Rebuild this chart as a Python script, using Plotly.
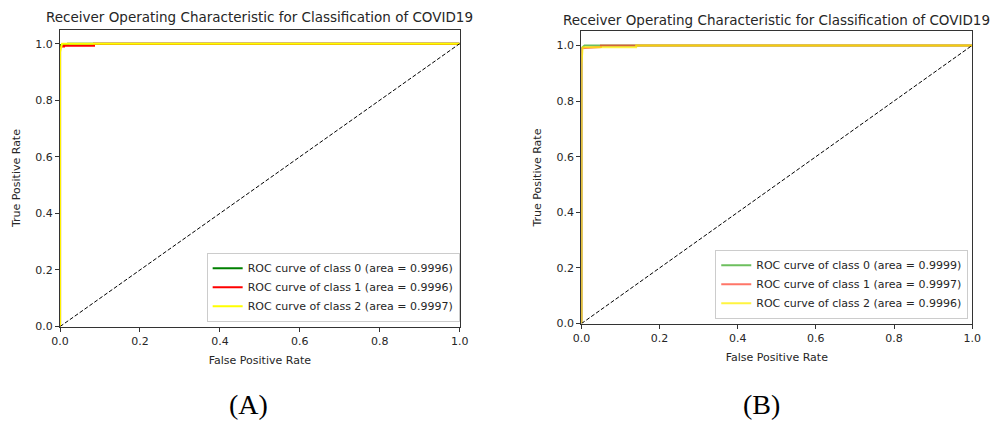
import plotly.graph_objects as go

# ---- data ----
ticks = [0.0, 0.2, 0.4, 0.6, 0.8, 1.0]
tick_text = ["0.0", "0.2", "0.4", "0.6", "0.8", "1.0"]

# Panel A
a_fpr0 = [0, 0, 0.02, 0.02, 1.0]
a_tpr0 = [0, 0.995, 0.995, 1.0, 1.0]
a_fpr1 = [0, 0, 0.01, 0.01, 0.085, 0.085, 1.0]
a_tpr1 = [0, 0.99, 0.99, 0.993, 0.993, 1.0, 1.0]
a_fpr2 = [0, 0, 0.005, 1.0]
a_tpr2 = [0, 0.97, 1.0, 1.0]
a_auc = ["0.9996", "0.9996", "0.9997"]

# Panel B
b_fpr0 = [0, 0, 0.008, 1.0]
b_tpr0 = [0, 0.99, 1.0, 1.0]
b_fpr1 = [0, 0, 0.05, 0.05, 1.0]
b_tpr1 = [0, 0.99, 0.994, 1.0, 1.0]
b_fpr2 = [0, 0, 0.003, 0.14, 0.14, 1.0]
b_tpr2 = [0, 0.93, 0.993, 0.993, 1.0, 1.0]
b_auc = ["0.9999", "0.9997", "0.9996"]

diag = [0, 1]

title_text = "Receiver Operating Characteristic for Classification of COVID19"
FONT = "DejaVu Sans"
TXT = "#262626"

fig = go.Figure()

colsA = ["#008000", "#ff0000", "#ffff00"]
colsB = ["rgba(60,170,40,0.75)", "rgba(255,60,40,0.7)", "rgba(255,240,0,0.75)"]

def add_panel(xa, ya, legend, fprs, tprs, aucs, cols):
    for i, (f, t) in enumerate(zip(fprs, tprs)):
        fig.add_trace(go.Scatter(
            x=f, y=t, mode="lines", xaxis=xa, yaxis=ya, legend=legend,
            line=dict(color=cols[i], width=2),
            name=f"ROC curve of class {i} (area = {aucs[i]})"))
    fig.add_trace(go.Scatter(
        x=diag, y=diag, mode="lines", xaxis=xa, yaxis=ya, showlegend=False,
        line=dict(color="black", width=1, dash="4px,2px")))

add_panel("x", "y", "legend", [a_fpr0, a_fpr1, a_fpr2], [a_tpr0, a_tpr1, a_tpr2], a_auc, colsA)
add_panel("x2", "y2", "legend2", [b_fpr0, b_fpr1, b_fpr2], [b_tpr0, b_tpr1, b_tpr2], b_auc, colsB)

W, H = 991, 427

def ax_common(**kw):
    d = dict(
        tickmode="array", tickvals=ticks, ticktext=tick_text,
        ticks="outside", ticklen=4, tickwidth=1, tickcolor="#333",
        showline=True, linecolor="#333", linewidth=1.2, mirror=True,
        showgrid=False, zeroline=False,
        tickfont=dict(family=FONT, size=11, color=TXT),
        title_font=dict(family=FONT, size=11, color=TXT),
    )
    d.update(kw)
    return d

fig.update_layout(
    width=W, height=H, margin=dict(l=0, r=0, t=0, b=0),
    paper_bgcolor="white", plot_bgcolor="white",
    xaxis=ax_common(domain=[52 / W, 459 / W], range=[0, 1], anchor="y",
                    title=dict(text="False Positive Rate", standoff=9)),
    yaxis=ax_common(domain=[1 - 332 / H, 1 - 30 / H], range=[0, 1.05], anchor="x",
                    title=dict(text="True Positive Rate", standoff=12)),
    xaxis2=ax_common(domain=[583 / W, 981 / W], range=[0, 1], anchor="y2",
                     title=dict(text="False Positive Rate", standoff=9)),
    yaxis2=ax_common(domain=[1 - 329 / H, 1 - 32 / H], range=[0, 1.05], anchor="x2",
                     title=dict(text="True Positive Rate", standoff=12)),
    legend=dict(x=459 / W, y=1 - 327 / H, xanchor="right", yanchor="bottom",
                bgcolor="white", bordercolor="#cccccc", borderwidth=1,
                font=dict(family=FONT, size=11, color=TXT), tracegroupgap=0,
                itemwidth=30),
    legend2=dict(x=977 / W, y=1 - 324 / H, xanchor="right", yanchor="bottom",
                 bgcolor="white", bordercolor="#cccccc", borderwidth=1,
                 font=dict(family=FONT, size=11, color=TXT), tracegroupgap=0,
                 itemwidth=30),
    showlegend=True,
    annotations=[
        dict(text=title_text, x=255.5 / W, y=1 - 17 / H, xref="paper", yref="paper",
             showarrow=False, xanchor="center", yanchor="middle",
             font=dict(family=FONT, size=13.5, color=TXT)),
        dict(text=title_text, x=782 / W, y=1 - 20 / H, xref="paper", yref="paper",
             showarrow=False, xanchor="center", yanchor="middle",
             font=dict(family=FONT, size=13.5, color=TXT)),
        dict(text="(A)", x=244 / W, y=1 - 411 / H, xref="paper", yref="paper",
             showarrow=False, xanchor="center", yanchor="middle",
             font=dict(family="Liberation Serif", size=28, color="black")),
        dict(text="(B)", x=766 / W, y=1 - 411 / H, xref="paper", yref="paper",
             showarrow=False, xanchor="center", yanchor="middle",
             font=dict(family="Liberation Serif", size=28, color="black")),
    ],
)

fig.write_html("out.html")
